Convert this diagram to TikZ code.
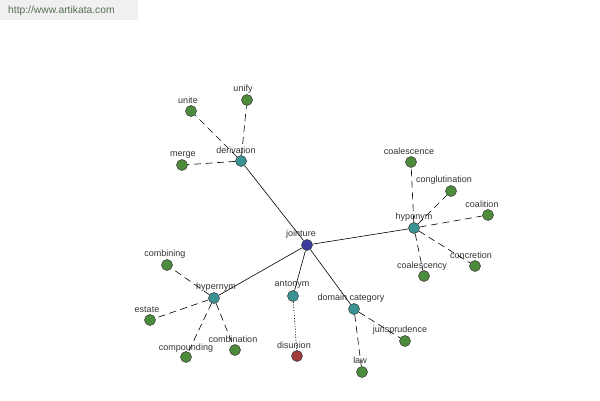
\documentclass[tikz,border=0pt]{standalone}
\usepackage{fontspec}
\setmainfont{Liberation Sans}
\definecolor{leafgreen}{HTML}{4C8C3C}
\definecolor{relteal}{HTML}{3A9494}
\definecolor{rootblue}{HTML}{3C3CA0}
\definecolor{antred}{HTML}{A03C3C}
\definecolor{lbltext}{HTML}{333333}
\definecolor{wmgray}{HTML}{F0F0F0}
\definecolor{wmtext}{HTML}{557055}
\tikzset{
  dot/.style={circle, draw=black!80, line width=0.5pt, minimum size=11pt, inner sep=0pt},
  leaf/.style={dot, fill=leafgreen},
  rel/.style={dot, fill=relteal},
  root/.style={dot, fill=rootblue},
  anto/.style={dot, fill=antred},
  lbl/.style={font=\fontsize{9}{10}\selectfont, text=lbltext, inner sep=0pt},
  solidedge/.style={draw=black, line width=0.6pt},
  dashedge/.style={draw=black, line width=0.6pt, dash pattern=on 7pt off 4.5pt},
  dotedge/.style={draw=black, line width=0.6pt, dash pattern=on 1.2pt off 1.5pt},
}
\begin{document}
\begin{tikzpicture}[x=1pt, y=-1pt]
\useasboundingbox (0,0) rectangle (600,400);
\fill[wmgray] (0,0) rectangle (138,20);
\node[font=\fontsize{10.3}{12}\selectfont, text=wmtext, anchor=west, inner sep=0pt] (wm) at (8,11) {http://www.artikata.com};

% nodes
\node[root] (jointure) at (307,245) {};
\node[rel] (derivation) at (241,161) {};
\node[leaf] (unite) at (191,111) {};
\node[leaf] (unify) at (247,100) {};
\node[leaf] (merge) at (182,165) {};
\node[rel] (hyponym) at (414,228) {};
\node[leaf] (coalescence) at (411,162) {};
\node[leaf] (conglutination) at (451,191) {};
\node[leaf] (coalition) at (488,215) {};
\node[leaf] (concretion) at (475,266) {};
\node[leaf] (coalescency) at (424,276) {};
\node[rel] (hypernym) at (214,298) {};
\node[leaf] (combining) at (167,265) {};
\node[leaf] (estate) at (150,320) {};
\node[leaf] (compounding) at (186,357) {};
\node[leaf] (combination) at (235,350) {};
\node[rel] (antonym) at (293,296) {};
\node[anto] (disunion) at (297,356) {};
\node[rel] (domcat) at (354,309) {};
\node[leaf] (jurisprudence) at (405,341) {};
\node[leaf] (law) at (362,372) {};

% labels
\node[lbl] (l-jointure) at (301,234) {jointure};
\node[lbl] (l-derivation) at (236,150) {derivation};
\node[lbl] (l-unite) at (188,100) {unite};
\node[lbl] (l-unify) at (243,89) {unify};
\node[lbl] (l-merge) at (183,155) {merge};
\node[lbl] (l-hyponym) at (414,217) {hyponym};
\node[lbl] (l-coalescence) at (409,151) {coalescence};
\node[lbl] (l-conglutination) at (444,180) {conglutination};
\node[lbl] (l-coalition) at (482,204) {coalition};
\node[lbl] (l-concretion) at (471,255) {concretion};
\node[lbl] (l-coalescency) at (422,266) {coalescency};
\node[lbl] (l-hypernym) at (216,287) {hypernym};
\node[lbl] (l-combining) at (165,254) {combining};
\node[lbl] (l-estate) at (147,310) {estate};
\node[lbl] (l-compounding) at (186,348) {compounding};
\node[lbl] (l-combination) at (233,339) {combination};
\node[lbl] (l-antonym) at (292,285) {antonym};
\node[lbl] (l-disunion) at (294,345) {disunion};
\node[lbl] (l-domcat) at (351,298) {domain category};
\node[lbl] (l-jurisprudence) at (400,330) {jurisprudence};
\node[lbl] (l-law) at (360,360) {law};

% edges
\draw[solidedge] (jointure) -- (derivation);
\draw[solidedge] (jointure) -- (hyponym);
\draw[solidedge] (jointure) -- (hypernym);
\draw[solidedge] (jointure) -- (antonym);
\draw[solidedge] (jointure) -- (domcat);
\draw[dashedge] (derivation) -- (unite);
\draw[dashedge] (derivation) -- (unify);
\draw[dashedge] (derivation) -- (merge);
\draw[dashedge] (hyponym) -- (coalescence);
\draw[dashedge] (hyponym) -- (conglutination);
\draw[dashedge] (hyponym) -- (coalition);
\draw[dashedge] (hyponym) -- (concretion);
\draw[dashedge] (hyponym) -- (coalescency);
\draw[dashedge] (hypernym) -- (combining);
\draw[dashedge] (hypernym) -- (estate);
\draw[dashedge] (hypernym) -- (compounding);
\draw[dashedge] (hypernym) -- (combination);
\draw[dotedge] (antonym) -- (disunion);
\draw[dashedge] (domcat) -- (jurisprudence);
\draw[dashedge] (domcat) -- (law);
\end{tikzpicture}
\end{document}
